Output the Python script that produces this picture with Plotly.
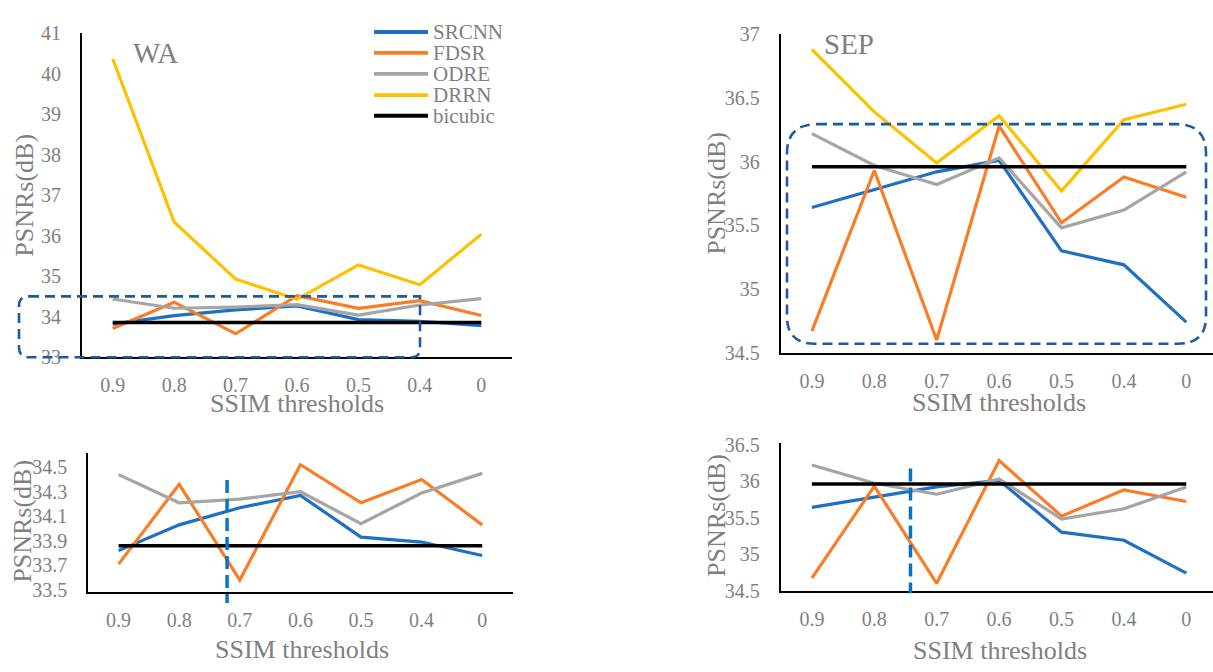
import plotly.graph_objects as go

W, H = 1213, 672

# ---------------- data ----------------
categories = ["0.9", "0.8", "0.7", "0.6", "0.5", "0.4", "0"]
series_names = ["SRCNN", "FDSR", "ODRE", "DRRN", "bicubic"]

srcnn_wa = [33.82, 34.03, 34.17, 34.27, 33.93, 33.89, 33.78]
fdsr_wa = [33.71, 34.36, 33.58, 34.52, 34.21, 34.40, 34.03]
odre_wa = [34.44, 34.21, 34.24, 34.30, 34.04, 34.29, 34.45]
drrn_wa = [40.37, 36.34, 34.93, 34.43, 35.28, 34.79, 36.04]
bicubic_wa = [33.86, 33.86, 33.86, 33.86, 33.86, 33.86, 33.86]

srcnn_sep = [35.64, 35.78, 35.92, 36.01, 35.30, 35.19, 34.74]
fdsr_sep = [34.67, 35.93, 34.60, 36.28, 35.52, 35.88, 35.72]
odre_sep = [36.22, 35.97, 35.82, 36.03, 35.48, 35.62, 35.92]
drrn_sep = [36.88, 36.39, 35.99, 36.36, 35.77, 36.33, 36.45]
bicubic_sep = [35.96, 35.96, 35.96, 35.96, 35.96, 35.96, 35.96]

ticks_wa_top = [33, 34, 35, 36, 37, 38, 39, 40, 41]
ticks_sep_top = [34.5, 35, 35.5, 36, 36.5, 37]
ticks_wa_zoom = [33.5, 33.7, 33.9, 34.1, 34.3, 34.5]
ticks_sep_zoom = [34.5, 35, 35.5, 36, 36.5]

# ---------------- styles ----------------
colors = {"SRCNN": "#1F6FC2", "FDSR": "#F97D27", "ODRE": "#A5A5A5",
          "DRRN": "#FFC000", "bicubic": "#000000"}
widths = {"SRCNN": 3.2, "FDSR": 3.2, "ODRE": 3.2, "DRRN": 3.2, "bicubic": 3.6}
GRAY = "#7F7F7F"
FONT = "Liberation Serif, Tinos, Times New Roman, DejaVu Serif, serif"
BOX = "#1F5A9E"
VLINE = "#0A72C0"


def px(x):
    return x / W


def py(y):
    return 1 - y / H


fig = go.Figure()

panels = [
    ("", {"SRCNN": srcnn_wa, "FDSR": fdsr_wa, "ODRE": odre_wa, "DRRN": drrn_wa, "bicubic": bicubic_wa}),
    ("2", {"SRCNN": srcnn_sep, "FDSR": fdsr_sep, "ODRE": odre_sep, "DRRN": drrn_sep, "bicubic": bicubic_sep}),
    ("3", {"SRCNN": srcnn_wa, "FDSR": fdsr_wa, "ODRE": odre_wa, "bicubic": bicubic_wa}),
    ("4", {"SRCNN": srcnn_sep, "FDSR": fdsr_sep, "ODRE": odre_sep, "bicubic": bicubic_sep}),
]

for suf, data in panels:
    for name in series_names:
        if name not in data:
            continue
        fig.add_trace(go.Scatter(
            x=categories, y=data[name], mode="lines", name=name,
            line=dict(color=colors[name], width=widths[name]),
            xaxis="x" + suf, yaxis="y" + suf, showlegend=False,
            hoverinfo="skip"))

common_x = dict(type="category", showline=True, linecolor="black", linewidth=2,
                showgrid=False, zeroline=False, ticks="",
                tickfont=dict(family=FONT, size=20, color=GRAY),
                ticklabelstandoff=9, fixedrange=True)
common_y = dict(showline=True, linecolor="black", linewidth=2,
                showgrid=False, zeroline=False, ticks="",
                tickfont=dict(family=FONT, size=20, color=GRAY),
                ticklabelstandoff=15, fixedrange=True)

fig.update_layout(
    width=W, height=H, margin=dict(l=0, r=0, t=0, b=0),
    paper_bgcolor="white", plot_bgcolor="white", showlegend=False,
    font=dict(family=FONT, color=GRAY),
    xaxis=dict(common_x, domain=[px(82), px(512)], range=[-0.5, 6.5], anchor="y"),
    yaxis=dict(common_y, domain=[py(358), py(23)], range=[33, 41], anchor="x",
               tickvals=ticks_wa_top, ticktext=[str(v) for v in ticks_wa_top]),
    xaxis2=dict(common_x, domain=[px(780.7), 1.0], range=[-0.5, -0.5 + (W - 780.7) / 62.4], anchor="y2"),
    yaxis2=dict(common_y, domain=[py(353.3), py(24)], range=[34.5, 37], anchor="x2",
                tickvals=ticks_sep_top, ticktext=[f"{v:g}" for v in ticks_sep_top]),
    xaxis3=dict(common_x, domain=[px(88.3), px(512.5)], range=[-0.5, 6.5], anchor="y3"),
    yaxis3=dict(common_y, domain=[py(601), py(456.7)], range=[33.48, 34.618], anchor="x3",
                tickvals=ticks_wa_zoom, ticktext=[f"{v:.1f}" for v in ticks_wa_zoom]),
    xaxis4=dict(common_x, domain=[px(780.7), 1.0], range=[-0.5, -0.5 + (W - 780.7) / 62.4], anchor="y4"),
    yaxis4=dict(common_y, domain=[py(600), py(446.7)], range=[34.49, 36.52], anchor="x4",
                tickvals=ticks_sep_zoom, ticktext=[f"{v:g}" for v in ticks_sep_zoom]),
)


def rounded_path(x0, y0, x1, y1, r_tl, r_tr, r_br, r_bl):
    """Rounded rectangle in pixel coords -> SVG path in paper coords."""
    def P(x, y):
        return f"{px(x):.5f},{py(y):.5f}"
    d = f"M {P(x0 + r_tl, y0)} L {P(x1 - r_tr, y0)} "
    d += f"Q {P(x1, y0)} {P(x1, y0 + r_tr)} " if r_tr else ""
    d += f"L {P(x1, y1 - r_br)} "
    d += f"Q {P(x1, y1)} {P(x1 - r_br, y1)} " if r_br else ""
    d += f"L {P(x0 + r_bl, y1)} "
    d += f"Q {P(x0, y1)} {P(x0, y1 - r_bl)} " if r_bl else ""
    d += f"L {P(x0, y0 + r_tl)} "
    d += f"Q {P(x0, y0)} {P(x0 + r_tl, y0)} " if r_tl else ""
    d += "Z"
    return d


shapes = [
    dict(type="path", xref="paper", yref="paper",
         path=rounded_path(19, 295, 420, 358, 10, 0, 9, 10),
         line=dict(color=BOX, width=2.6, dash="10px,6px"), layer="above"),
    dict(type="path", xref="paper", yref="paper",
         path=rounded_path(787, 117, 1206, 344, 30, 30, 28, 28),
         line=dict(color=BOX, width=2.6, dash="10px,6px"), layer="above"),
    dict(type="line", xref="x3", yref="paper", x0=1.79, x1=1.79, y0=py(485), y1=py(612),
         line=dict(color=VLINE, width=3.5, dash="13px,6px")),
    dict(type="line", xref="x4", yref="paper", x0=1.58, x1=1.58, y0=py(473), y1=py(602),
         line=dict(color=VLINE, width=3.5, dash="13px,6px")),
]

annotations = []
# manual legend
legend_rows = [21.7, 43.3, 65.0, 87.0, 108.3]
for name, yy in zip(series_names, legend_rows):
    shapes.append(dict(type="line", xref="paper", yref="paper",
                       x0=px(374), x1=px(428), y0=py(yy), y1=py(yy),
                       line=dict(color=colors[name], width=widths[name] + 0.6)))
    annotations.append(dict(text=name, xref="paper", yref="paper", x=px(431), y=py(yy),
                            xanchor="left", yanchor="middle", showarrow=False,
                            font=dict(family=FONT, size=21, color=GRAY)))

# panel labels
annotations.append(dict(text="WA", xref="paper", yref="paper", x=px(155), y=py(43),
                        xanchor="center", yanchor="middle", showarrow=False,
                        font=dict(family=FONT, size=29, color=GRAY)))
annotations.append(dict(text="SEP", xref="paper", yref="paper", x=px(849), y=py(34),
                        xanchor="center", yanchor="middle", showarrow=False,
                        font=dict(family=FONT, size=29, color=GRAY)))

# axis titles
xt = [(297, 406), (999, 405), (302, 660), (1000, 661)]
for (x, y) in xt:
    annotations.append(dict(text="SSIM thresholds", xref="paper", yref="paper",
                            x=px(x), y=py(y), xanchor="center", yanchor="middle",
                            showarrow=False, font=dict(family=FONT, size=26, color=GRAY)))
yt = [(25, 191), (717, 189), (23, 528), (717, 522)]
for (x, y) in yt:
    annotations.append(dict(text="PSNRs(dB)", xref="paper", yref="paper",
                            x=px(x), y=py(y), xanchor="center", yanchor="middle",
                            textangle=-90, showarrow=False,
                            font=dict(family=FONT, size=26, color=GRAY)))

fig.update_layout(shapes=shapes, annotations=annotations)
fig.write_html("out.html")
